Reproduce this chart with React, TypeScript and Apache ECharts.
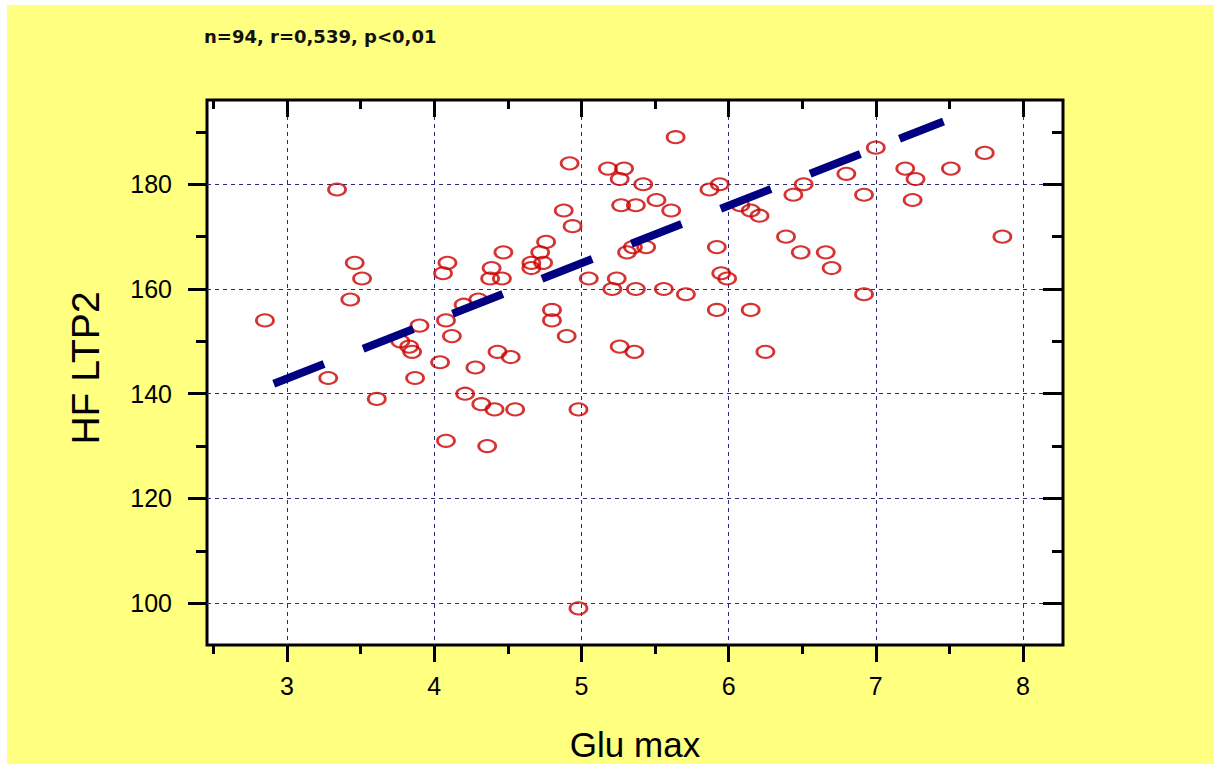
import React, { useEffect, useRef } from "react";
import * as echarts from "echarts";

// ---- data ----
const gluMax = [
  2.85, 3.28, 3.34, 3.43, 3.46, 3.51, 3.61, 3.77, 3.83, 3.85,
  3.87, 3.9, 4.04, 4.06, 4.09, 4.08, 4.12, 4.08, 4.2, 4.21,
  4.28, 4.3, 4.32, 4.36, 4.38, 4.39, 4.41, 4.43, 4.46, 4.47,
  4.52, 4.55, 4.66, 4.66, 4.72, 4.74, 4.76, 4.8, 4.8, 4.88,
  4.9, 4.92, 4.94, 4.98, 4.98, 5.05, 5.18, 5.21, 5.24, 5.26,
  5.26, 5.27, 5.29, 5.31, 5.35, 5.36, 5.37, 5.37, 5.42, 5.44,
  5.51, 5.56, 5.61, 5.64, 5.71, 5.87, 5.92, 5.92, 5.94, 5.95,
  5.99, 6.08, 6.15, 6.15, 6.21, 6.25, 6.39, 6.44, 6.49, 6.51,
  6.66, 6.7, 6.8, 6.92, 6.92, 7.0, 7.2, 7.25, 7.27, 7.51,
  7.74, 7.86,
];
const hfLtp2 = [
  154, 143, 179, 158, 165, 162, 139, 150, 149, 148,
  143, 153, 146, 163, 165, 154, 151, 131, 157, 140,
  145, 158, 138, 130, 162, 164, 137, 148, 162, 167,
  147, 137, 164, 165, 167, 165, 169, 156, 154, 175,
  151, 184, 172, 137, 99, 162, 183, 160, 162, 149,
  181, 176, 183, 167, 168, 148, 160, 176, 180, 168,
  177, 160, 175, 189, 159, 179, 168, 156, 180, 163,
  162, 176, 175, 156, 174, 148, 170, 178, 167, 180,
  167, 164, 182, 178, 159, 187, 183, 177, 181, 183,
  186, 170,
];
const trendX = [2.91, 7.46];
const trendY = [141.9, 192.0];

const xMajorTicks = [3, 4, 5, 6, 7, 8];
const xMinorTicks = [2.5, 3.5, 4.5, 5.5, 6.5, 7.5];
const yMajorTicks = [100, 120, 140, 160, 180];
const yMinorTicks = [110, 130, 150, 170, 190];

const statsLabel = "n=94, r=0,539, p<0,01";
const xTitle = "Glu max";
const yTitle = "HF LTP2";

const X_MIN = 2.4565;
const X_MAX = 8.2717;
const Y_MIN = 92.0;
const Y_MAX = 196.1;

const FONT = "'Liberation Sans', Arial, sans-serif";
const GRID_LINE = { color: "#2b2b7a", width: 1, type: [4, 4] as number[] };

function xAxisDef(position: string, ticks: number[], len: number, inside: boolean, extra: any = {}) {
  return {
    type: "value",
    gridIndex: 0,
    position,
    min: X_MIN,
    max: X_MAX,
    axisLine: { show: false },
    axisTick: { show: true, customValues: ticks, length: len, inside, lineStyle: { color: "#000", width: 3 } },
    axisLabel: { show: false },
    splitLine: { show: false },
    ...extra,
  };
}

function yAxisDef(position: string, ticks: number[], len: number, inside: boolean, extra: any = {}) {
  return {
    type: "value",
    gridIndex: 0,
    position,
    min: Y_MIN,
    max: Y_MAX,
    axisLine: { show: false },
    axisTick: { show: true, customValues: ticks, length: len, inside, lineStyle: { color: "#000", width: 3 } },
    axisLabel: { show: false },
    splitLine: { show: false },
    ...extra,
  };
}

export default function App() {
  const ref = useRef<HTMLDivElement>(null);

  useEffect(() => {
    if (!ref.current) return;
    const chart = echarts.init(ref.current, null, { renderer: "svg" });
    const points = gluMax.map((x, i) => [x, hfLtp2[i]]);
    const trend = trendX.map((x, i) => [x, trendY[i]]);

    chart.setOption({
      animation: false,
      backgroundColor: "#ffff80",
      title: {
        text: statsLabel,
        left: 197,
        top: 22,
        padding: 0,
        textStyle: {
          fontFamily: "'DejaVu Sans', Verdana, sans-serif",
          fontSize: 18,
          fontWeight: "bold",
          color: "#111",
        },
      },
      graphic: [
        {
          type: "text",
          x: 78,
          y: 363,
          rotation: Math.PI / 2,
          style: {
            text: yTitle,
            fontSize: 39,
            fontFamily: FONT,
            fill: "#000",
            align: "center",
            verticalAlign: "middle",
          },
        },
      ],
      grid: {
        left: 200,
        top: 95,
        width: 856,
        height: 545,
        show: true,
        backgroundColor: "#ffffff",
        borderColor: "#000",
        borderWidth: 3,
        containLabel: false,
        outerBoundsMode: "none",
      },
      xAxis: [
        xAxisDef("bottom", xMajorTicks, 17, false, {
          axisLabel: {
            show: true,
            customValues: xMajorTicks,
            margin: 28,
            fontSize: 25,
            fontFamily: FONT,
            color: "#000",
            formatter: (v: number) => String(v),
          },
          splitLine: { show: true, lineStyle: GRID_LINE },
          name: xTitle,
          nameLocation: "middle",
          nameGap: 82,
          nameTextStyle: { fontSize: 35, fontFamily: FONT, color: "#000" },
        }),
        xAxisDef("bottom", xMinorTicks, 9, false),
        xAxisDef("top", xMajorTicks, 17, true),
        xAxisDef("top", xMinorTicks, 9, true),
      ],
      yAxis: [
        yAxisDef("left", yMajorTicks, 19, false, {
          axisLabel: {
            show: true,
            customValues: yMajorTicks,
            margin: 35,
            fontSize: 25,
            fontFamily: FONT,
            color: "#000",
            formatter: (v: number) => String(v),
          },
          splitLine: { show: true, lineStyle: GRID_LINE },
        }),
        yAxisDef("left", yMinorTicks, 11, false),
        yAxisDef("right", yMajorTicks, 20, true),
        yAxisDef("right", yMinorTicks, 11, true),
      ],
      series: [
        {
          type: "scatter",
          xAxisIndex: 0,
          yAxisIndex: 0,
          data: points,
          symbol: "circle",
          symbolSize: [17, 12],
          itemStyle: { color: "rgba(255,255,255,0)", borderColor: "#cc0000", borderWidth: 2.4 },
          z: 3,
        },
        {
          type: "line",
          xAxisIndex: 0,
          yAxisIndex: 0,
          data: trend,
          symbol: "none",
          lineStyle: { color: "#000080", width: 8, type: [54, 42], cap: "butt" },
          z: 4,
        },
      ],
    });

    return () => chart.dispose();
  }, []);

  return (
    <div
      ref={ref}
      style={{ position: "absolute", left: 7, top: 5, width: 1207, height: 759 }}
    />
  );
}
